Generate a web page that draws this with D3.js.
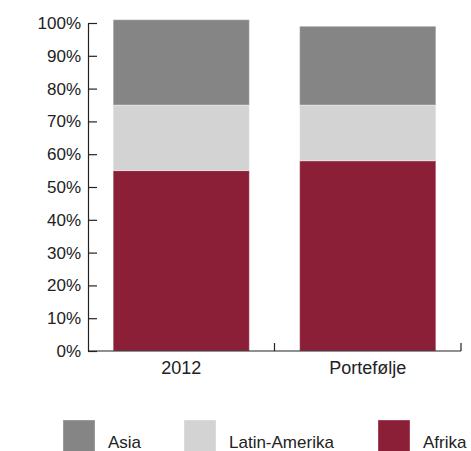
<!DOCTYPE html>
<html>
<head>
<meta charset="utf-8">
<script src="https://cdn.jsdelivr.net/npm/d3@7"></script>
<style>
  html, body { margin: 0; padding: 0; background: #fff; }
  svg { display: block; }
  text { font-family: "Liberation Sans", Arial, Helvetica, sans-serif; fill: #222; }
</style>
</head>
<body>
<svg id="chart" width="471" height="451"></svg>
<script>
const categories = ["2012", "Portefølje"];
const seriesNames = ["Afrika", "Latin-Amerika", "Asia"];
const afrika = [55, 58];
const latinAmerika = [20, 17];
const asia = [26, 24];
const yTicks = [0, 10, 20, 30, 40, 50, 60, 70, 80, 90, 100];
const legendOrder = ["Asia", "Latin-Amerika", "Afrika"];

const colors = { "Afrika": "#8c1f38", "Latin-Amerika": "#d3d3d3", "Asia": "#858585" };

const rows = categories.map((c, i) => ({
  cat: c, "Afrika": afrika[i], "Latin-Amerika": latinAmerika[i], "Asia": asia[i]
}));

const svg = d3.select("#chart");
const plotLeft = 88, plotRight = 461, plotBottom = 351, plotTop = 23;

const x = d3.scaleBand().domain(categories).range([plotLeft, plotRight])
  .paddingInner(0.27).paddingOuter(0.135);
const y = d3.scaleLinear().domain([0, 100]).range([plotBottom, plotTop]);

const stack = d3.stack().keys(seriesNames)(rows);

svg.append("g").selectAll("g").data(stack).join("g")
  .attr("fill", d => colors[d.key])
  .selectAll("rect").data(d => d).join("rect")
  .attr("x", d => x(d.data.cat))
  .attr("width", x.bandwidth())
  .attr("y", d => y(d[1]))
  .attr("height", d => y(d[0]) - y(d[1]))
  .attr("stroke", "#ffffff")
  .attr("stroke-opacity", 0.35)
  .attr("stroke-width", 1);

// Y axis
const yAxis = d3.axisLeft(y).tickValues(yTicks).tickFormat(d => d + "%")
  .tickSizeInner(-9).tickSizeOuter(0).tickPadding(7);
const gy = svg.append("g").attr("transform", `translate(${plotLeft},0)`).call(yAxis);
gy.selectAll("path, line").attr("stroke", "#222").attr("stroke-width", 1.2);
gy.selectAll("text").style("font-size", "17px").attr("fill", "#222");

// X axis
const xAxis = d3.axisBottom(x).tickSize(0).tickPadding(10);
const gx = svg.append("g").attr("transform", `translate(0,${plotBottom})`).call(xAxis);
gx.select(".domain").remove();
gx.selectAll("text").style("font-size", "18px").attr("fill", "#222");
gx.append("line").attr("x1", plotLeft).attr("x2", plotRight).attr("y1", 0).attr("y2", 0)
  .attr("stroke", "#222").attr("stroke-width", 1.2);
categories.forEach((c, i) => {
  const bx = plotLeft + (i + 1) * x.step();
  gx.append("line").attr("x1", bx).attr("x2", bx).attr("y1", 0).attr("y2", -8)
    .attr("stroke", "#222").attr("stroke-width", 1.2);
});

// Legend
const legendX = [63, 184, 378];
const lg = svg.append("g");
legendOrder.forEach((name, i) => {
  const g = lg.append("g").attr("transform", `translate(${legendX[i]},420)`);
  g.append("rect").attr("width", 32).attr("height", 32).attr("fill", colors[name])
    .attr("stroke", "#ffffff").attr("stroke-opacity", 0.35);
  g.append("text").attr("x", 45).attr("y", 28).style("font-size", "17px").text(name);
});
</script>
</body>
</html>
